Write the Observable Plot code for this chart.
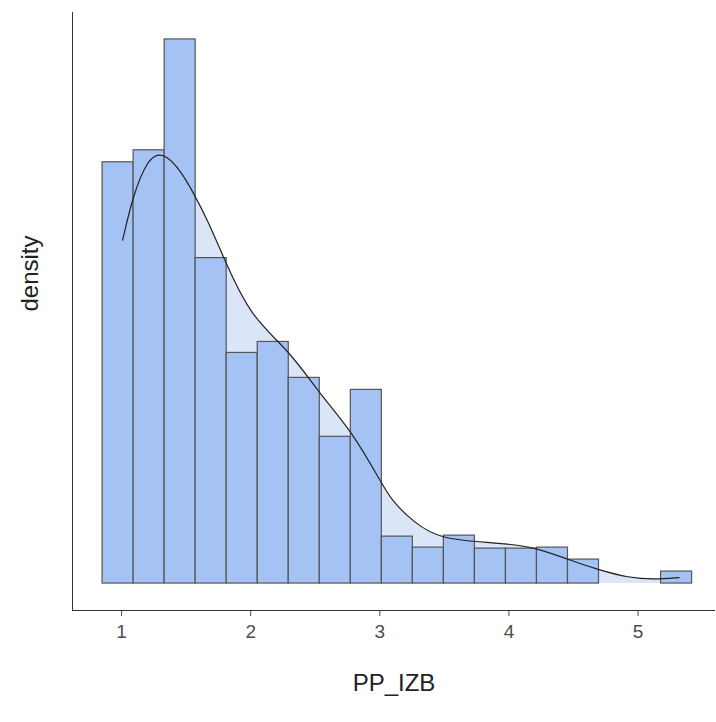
<!DOCTYPE html>
<html>
<head>
<meta charset="utf-8">
<script src="https://cdn.jsdelivr.net/npm/d3@7"></script>
<script src="https://cdn.jsdelivr.net/npm/@observablehq/plot@0.6"></script>
<style>body{margin:0;background:#fff}</style>
</head>
<body>
<div id="chart"></div>
<script>
// histogram bins (start + width) and bar heights
const binStart = 0.853
const binWidth = 0.2403
const counts = [422, 434, 545, 326, 231, 242, 206, 147, 194, 47, 36, 48, 35, 35, 36, 24, 0, 0, 12]
// density curve
const densX = [1.008, 1.093, 1.202, 1.279, 1.341, 1.457, 1.558, 1.667, 1.791, 1.999, 2.295, 2.535, 2.775, 3.0, 3.085, 3.264, 3.473, 3.884, 4.194, 4.457, 4.713, 4.922, 5.124, 5.318]
const densY = [344, 391, 424, 430, 429, 414, 391, 364, 326, 267, 234, 190, 154, 104, 84, 61, 44, 41, 37, 24, 13, 6, 4, 6]
const xTicks = [1, 2, 3, 4, 5]

const bins = counts.map((c, i) => ({x1: binStart + i * binWidth, x2: binStart + (i + 1) * binWidth, y: c}))
const dens = densX.map((x, i) => ({x, y: densY[i]}))

const chart = Plot.plot({
  width: 716,
  height: 722,
  marginLeft: 72,
  marginRight: 1,
  marginTop: 12,
  marginBottom: 112,
  style: {fontFamily: "Liberation Sans, Arial, sans-serif", fontSize: "19px", color: "#4d4d4d"},
  x: {domain: [0.62, 5.6], ticks: xTicks, tickFormat: d3.format("d"), tickSize: 6, tickPadding: 8, label: null},
  y: {domain: [-27, 572], ticks: [], label: null},
  marks: [
    Plot.areaY(dens, {x: "x", y1: 0, y2: "y", fill: "#dae6f8", curve: "basis"}),
    Plot.rect(bins.filter(d => d.y > 0), {x1: "x1", x2: "x2", y1: 0, y2: "y", fill: "#a4c2f4", stroke: "#555", strokeWidth: 1.2}),
    Plot.line(dens, {x: "x", y: "y", stroke: "#222", strokeWidth: 1.2, curve: "basis"}),
    Plot.ruleX([0.62], {stroke: "#333"}),
    Plot.ruleY([-27], {stroke: "#333"}),
    Plot.text(["PP_IZB"], {frameAnchor: "bottom", dy: 80, fontSize: 24, fill: "#222"}),
    Plot.text(["density"], {frameAnchor: "left", dx: -42, rotate: -90, fontSize: 24, fill: "#222"})
  ]
})
d3.select("#chart").append(() => chart)
</script>
</body>
</html>
